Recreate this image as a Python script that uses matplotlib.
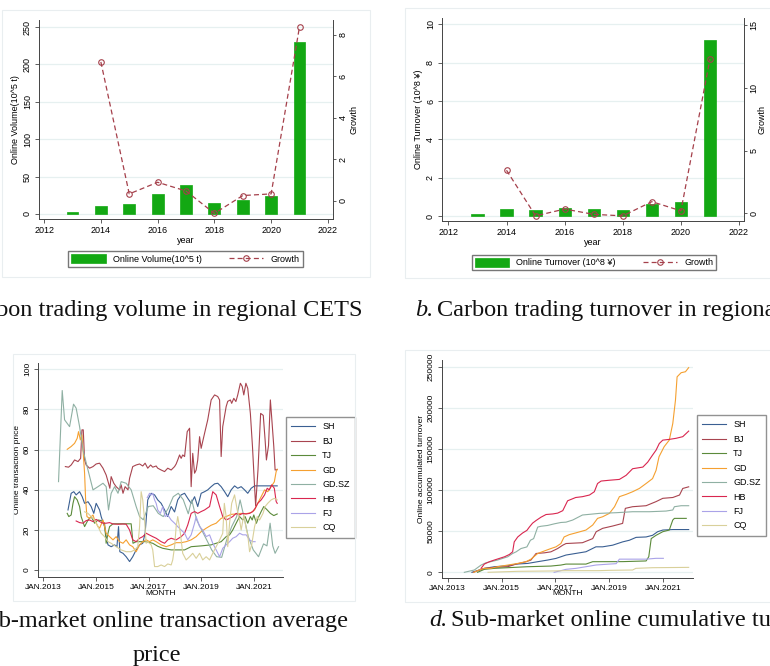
import matplotlib
matplotlib.use('Agg')
import matplotlib.pyplot as plt
from matplotlib.patches import Rectangle
import numpy as np

W, H = 770, 666
plt.rcParams['font.family'] = ['Liberation Sans', 'DejaVu Sans']

# yearly totals of the regional CETS
years = [2013, 2014, 2015, 2016, 2017, 2018, 2019, 2020, 2021]
volume = [2.2, 10.3, 13.4, 26.3, 38.8, 14.7, 18.3, 23.6, 229.5]
volume_growth = [np.nan, 6.7, 0.34, 0.9, 0.48, -0.6, 0.26, 0.34, 8.4]
turnover = [0.1, 0.37, 0.31, 0.4, 0.39, 0.3, 0.63, 0.73, 9.2]
turnover_growth = [np.nan, 3.43, -0.2, 0.34, -0.08, -0.2, 0.93, 0.2, 12.3]

markets = ['SH', 'BJ', 'TJ', 'GD', 'GD.SZ', 'HB', 'FJ', 'CQ']
colors = ['#3a5f92', '#a8444f', '#5b8a3a', '#f5a030', '#8fb0a3', '#d9264f', '#aaa3e8', '#d9d09a']

# monthly online transaction price (decimal year, price)
sh_pt = [2013.94, 2014.06, 2014.16, 2014.25, 2014.38, 2014.48, 2014.57, 2014.7, 2014.82, 2014.92, 2015.01, 2015.14, 2015.2, 2015.33, 2015.39, 2015.46, 2015.58, 2015.71, 2015.8, 2015.86, 2015.91, 2016.03, 2016.15, 2016.28, 2016.4, 2016.53, 2016.66, 2016.78, 2016.87, 2016.97, 2017.1, 2017.23, 2017.35, 2017.48, 2017.61, 2017.73, 2017.86, 2017.99, 2018.11, 2018.24, 2018.37, 2018.49, 2018.62, 2018.75, 2018.87, 2019.0, 2019.13, 2019.25, 2019.38, 2019.51, 2019.63, 2019.76, 2019.89, 2020.01, 2020.14, 2020.27, 2020.39, 2020.52, 2020.65, 2020.77, 2020.9, 2021.03, 2021.4, 2021.89]
sh_pv = [29.9, 38.2, 39, 37.4, 39, 36.5, 33.2, 34, 31.6, 28.2, 33.2, 29.9, 26.6, 21.6, 16.6, 12.5, 11.6, 12.5, 11.6, 21.6, 9.1, 8.3, 6.6, 4.2, 6.6, 10, 12.5, 13.3, 18.3, 34.9, 38.2, 37.4, 34.9, 33.2, 29.9, 26.6, 31.6, 28.9, 34.9, 37.4, 38.2, 35.7, 33.2, 36.5, 31.6, 38.2, 39, 39.9, 41.5, 42.9, 43.2, 41.5, 39, 36.5, 39.9, 41.9, 40.7, 41.5, 39.9, 38.2, 40.7, 41.9, 41.9, 41.9]
bj_pt = [2013.84, 2013.96, 2014.06, 2014.19, 2014.32, 2014.42, 2014.47, 2014.52, 2014.57, 2014.63, 2014.76, 2014.89, 2015.01, 2015.14, 2015.27, 2015.39, 2015.48, 2015.53, 2015.58, 2015.68, 2015.77, 2015.9, 2015.96, 2016.03, 2016.11, 2016.22, 2016.28, 2016.4, 2016.53, 2016.66, 2016.78, 2016.87, 2016.97, 2017.08, 2017.16, 2017.29, 2017.35, 2017.48, 2017.61, 2017.73, 2017.86, 2017.99, 2018.05, 2018.11, 2018.18, 2018.24, 2018.3, 2018.37, 2018.47, 2018.56, 2018.62, 2018.68, 2018.75, 2018.81, 2018.87, 2018.94, 2019.0, 2019.13, 2019.25, 2019.38, 2019.51, 2019.63, 2019.7, 2019.76, 2019.82, 2019.95, 2020.01, 2020.11, 2020.16, 2020.24, 2020.32, 2020.39, 2020.49, 2020.56, 2020.62, 2020.7, 2020.77, 2020.87, 2020.95, 2021.03, 2021.07, 2021.16, 2021.26, 2021.36, 2021.43, 2021.48, 2021.56, 2021.63, 2021.68, 2021.76, 2021.81, 2021.89]
bj_pv = [51.5, 51.2, 52.3, 54.8, 54, 55.6, 69.8, 69.8, 54.8, 52.3, 50.7, 51.5, 52.8, 53.2, 50.7, 47.3, 43.2, 40.7, 46.5, 43.2, 41.5, 39.9, 42.4, 38.2, 41.5, 39.9, 45.7, 51.5, 52.3, 52.8, 51.8, 53.2, 50.7, 52.3, 51.2, 51.8, 50.7, 49.8, 49, 50.7, 49.8, 51.5, 52.8, 54.8, 57.3, 55.6, 57.3, 56.5, 68.9, 70.6, 41.5, 58.1, 48.2, 49.8, 54.8, 66.4, 60.6, 68.1, 74.8, 84.7, 87.2, 86.4, 84.7, 56.5, 71.4, 81.4, 84, 84.7, 83, 85.5, 83.9, 87.2, 93, 91.4, 87.2, 93, 90.5, 78, 61.5, 41.5, 32, 50, 78, 77, 64.8, 54.8, 62, 84.7, 76, 61.5, 49.8, 50]
tj_pt = [2013.91, 2013.97, 2014.06, 2014.13, 2014.19, 2014.29, 2014.38, 2014.44, 2014.57, 2014.7, 2014.82, 2014.95, 2015.08, 2015.2, 2015.33, 2015.39, 2015.46, 2015.52, 2015.65, 2015.96, 2016.34, 2016.41, 2016.53, 2016.72, 2016.91, 2017.16, 2017.35, 2017.54, 2017.86, 2018.37, 2018.62, 2019.0, 2019.38, 2019.57, 2019.76, 2019.95, 2020.08, 2020.2, 2020.33, 2020.46, 2020.58, 2020.67, 2020.77, 2020.87, 2020.94, 2021.0, 2021.1, 2021.19, 2021.28, 2021.38, 2021.51, 2021.63, 2021.76, 2021.89]
tj_pv = [28.2, 26.6, 27.4, 33.2, 36.5, 34.9, 31.6, 26.6, 21.6, 24.9, 26.6, 23.3, 24.9, 24.6, 23.3, 13.3, 18.3, 21.6, 23, 23, 23, 13.3, 14.1, 14.1, 14.1, 13.3, 11.8, 10.8, 10, 10, 11.6, 12, 12.5, 13.3, 14.1, 16.6, 17.5, 19.9, 23.3, 26.6, 24.9, 26.6, 23.3, 26.6, 24.9, 27.4, 23.3, 26.6, 29.1, 31.6, 29.9, 28.2, 27.1, 27.9]
gd_pt = [2013.91, 2014.06, 2014.19, 2014.29, 2014.34, 2014.41, 2014.47, 2014.52, 2014.57, 2014.61, 2014.66, 2014.76, 2014.89, 2014.95, 2015.08, 2015.14, 2015.27, 2015.39, 2015.52, 2015.65, 2015.77, 2015.9, 2016.03, 2016.15, 2016.28, 2016.4, 2016.53, 2016.66, 2016.78, 2016.91, 2017.04, 2017.16, 2017.29, 2017.48, 2017.67, 2017.86, 2018.05, 2018.24, 2018.43, 2018.62, 2018.81, 2019.0, 2019.19, 2019.38, 2019.57, 2019.76, 2019.95, 2020.14, 2020.33, 2020.52, 2020.65, 2020.77, 2020.9, 2021.03, 2021.15, 2021.28, 2021.41, 2021.53, 2021.66, 2021.78, 2021.85, 2021.89]
gd_pv = [60.1, 61.5, 63.1, 65.6, 68.9, 64.8, 67.3, 58.1, 48.2, 34.9, 26.6, 25.7, 27.4, 24.9, 21.6, 20.8, 24.9, 18.3, 16.6, 15, 16.6, 14.1, 13.3, 15, 12.5, 11.6, 9.1, 12.5, 14.1, 15, 14.1, 15, 14.1, 12.5, 11.6, 12.5, 13.6, 13.6, 14.1, 15, 16.6, 19.1, 20.8, 22.3, 23.3, 25.7, 26.6, 27.7, 27.9, 28.2, 27.9, 28.2, 28.6, 29.9, 33.2, 36.5, 39.9, 39, 41.5, 43.9, 49, 50.2]
sz_pt = [2013.58, 2013.72, 2013.81, 2014.0, 2014.15, 2014.25, 2014.38, 2014.51, 2014.7, 2014.89, 2015.08, 2015.27, 2015.39, 2015.48, 2015.58, 2015.71, 2015.84, 2015.96, 2016.15, 2016.34, 2016.53, 2016.66, 2016.8, 2016.99, 2017.18, 2017.37, 2017.56, 2017.75, 2017.94, 2018.13, 2018.32, 2018.51, 2018.64, 2018.83, 2019.02, 2019.21, 2019.4, 2019.59, 2019.78, 2019.97, 2020.16, 2020.35, 2020.48, 2020.6, 2020.79, 2020.98, 2021.18, 2021.37, 2021.5, 2021.62, 2021.72, 2021.81, 2021.94]
sz_pv = [44, 89.4, 74.8, 71.4, 82.6, 80.6, 71.4, 59.8, 49.8, 39.9, 41.5, 43.2, 41.5, 29.9, 38.2, 41.5, 38.2, 44, 43.2, 39.9, 31.6, 26.6, 25, 31.6, 32, 28.2, 26.6, 30.7, 36.5, 38.2, 35, 28, 34.9, 24.9, 19.9, 15, 10, 6.6, 6.3, 15, 21.6, 26.6, 34.9, 28, 16.6, 10, 6.6, 13, 12, 23.3, 12, 8.3, 11.6]
hb_pt = [2014.25, 2014.38, 2014.51, 2014.63, 2014.76, 2014.89, 2015.01, 2015.14, 2015.27, 2015.39, 2015.52, 2015.65, 2015.84, 2016.03, 2016.15, 2016.28, 2016.4, 2016.53, 2016.66, 2016.78, 2016.91, 2017.04, 2017.16, 2017.29, 2017.48, 2017.61, 2017.73, 2017.86, 2018.05, 2018.24, 2018.37, 2018.49, 2018.62, 2018.75, 2018.87, 2019.0, 2019.13, 2019.32, 2019.44, 2019.57, 2019.7, 2019.82, 2019.95, 2020.08, 2020.2, 2020.33, 2020.46, 2020.58, 2020.71, 2020.84, 2020.96, 2021.05, 2021.15, 2021.28, 2021.41, 2021.51, 2021.59, 2021.68, 2021.78, 2021.85, 2021.89]
hb_pv = [24.4, 23.6, 23.3, 24.6, 24.9, 24.1, 25.2, 24.1, 23.3, 23.3, 23.6, 22.9, 22.8, 22.9, 22.8, 19.9, 15, 14.1, 15.8, 16.6, 18.3, 17.4, 16.6, 15.8, 14.1, 13.3, 15, 15.8, 15, 16.6, 18.3, 22.4, 28.2, 29.1, 28.2, 29.1, 29.9, 31.6, 39, 37.4, 31.6, 26.6, 24.9, 25.7, 26.6, 28.2, 27.4, 28.2, 27.9, 28.2, 29.1, 30.7, 33.2, 34.9, 37.4, 40.7, 39.9, 42.4, 40.7, 34.1, 33.2]
fj_pt = [2016.95, 2017.04, 2017.1, 2017.16, 2017.23, 2017.29, 2017.35, 2017.45, 2017.54, 2017.63, 2017.73, 2017.86, 2017.99, 2018.11, 2018.24, 2018.37, 2018.49, 2018.62, 2018.75, 2018.81, 2018.94, 2019.06, 2019.19, 2019.32, 2019.44, 2019.57, 2019.7, 2019.82, 2019.95, 2020.08, 2020.2, 2020.33, 2020.46, 2020.58, 2020.71, 2020.84, 2020.96, 2021.05]
fj_pv = [36, 38.2, 37.4, 38.2, 34.9, 33.2, 29.9, 28.2, 31.6, 26.6, 27.4, 24.9, 23.3, 21.6, 19.9, 18.3, 15, 17.5, 23.3, 26.6, 21.6, 19.9, 16.6, 17.5, 13.3, 10, 6.6, 10.8, 12.5, 14.1, 15.8, 16.6, 18.3, 17.5, 17.5, 15, 14.1, 14.1]
cq_pt = [2014.57, 2014.7, 2014.82, 2014.95, 2015.08, 2015.2, 2015.33, 2015.46, 2015.58, 2015.77, 2015.96, 2016.15, 2016.34, 2016.47, 2016.59, 2016.66, 2016.72, 2016.78, 2016.85, 2016.91, 2016.97, 2017.1, 2017.16, 2017.23, 2017.35, 2017.48, 2017.61, 2017.73, 2017.86, 2017.92, 2017.99, 2018.05, 2018.11, 2018.21, 2018.3, 2018.43, 2018.56, 2018.68, 2018.81, 2018.94, 2019.06, 2019.19, 2019.32, 2019.44, 2019.57, 2019.7, 2019.82, 2019.88, 2019.95, 2020.01, 2020.08, 2020.16, 2020.27, 2020.37, 2020.46, 2020.52, 2020.62, 2020.71, 2020.77, 2020.84, 2020.92, 2021.03, 2021.13, 2021.22, 2021.35, 2021.43, 2021.53, 2021.66, 2021.78, 2021.89]
cq_pv = [29, 28.2, 26.6, 24.9, 21.6, 18.3, 16.6, 14.1, 13.3, 11.6, 10, 9.1, 9.1, 10, 11.6, 21.6, 39, 34.9, 24.9, 13.3, 14.1, 12.5, 10, 1.7, 1.7, 2.5, 1.7, 3, 2.5, 5, 11.6, 21.6, 26.6, 18.3, 8.3, 5, 6.6, 8.3, 5.8, 8.3, 5, 6.6, 5, 8.3, 11.6, 14.9, 18.3, 33.2, 26.6, 11.6, 23.3, 33.2, 37.4, 29.9, 24.9, 19.9, 27.4, 20.8, 17.5, 9.1, 12.5, 21.6, 26.6, 24.9, 28.2, 31.6, 33.2, 34.9, 35.7, 34.9]

# online accumulated turnover (decimal year, value)
sh_ct = [2013.9, 2014.37, 2014.74, 2015.23, 2015.54, 2015.97, 2016.34, 2016.71, 2017.02, 2017.2, 2017.39, 2017.76, 2018.13, 2018.5, 2018.75, 2019.12, 2019.49, 2019.74, 2019.99, 2020.36, 2020.6, 2020.79, 2020.98, 2021.35, 2021.94]
sh_cv = [0, 4800, 6800, 8000, 10000, 10800, 12900, 14900, 16900, 18900, 21000, 23000, 25000, 31000, 31000, 33000, 37000, 39000, 42500, 43000, 45000, 49400, 51400, 52000, 52000]
bj_ct = [2013.95, 2014.37, 2014.74, 2015.23, 2015.54, 2015.91, 2016.09, 2016.28, 2016.59, 2016.83, 2017.08, 2017.27, 2017.39, 2018.0, 2018.38, 2018.51, 2018.75, 2019.12, 2019.49, 2019.59, 2019.86, 2020.36, 2020.73, 2020.98, 2021.35, 2021.6, 2021.72, 2021.94]
bj_cv = [0, 4800, 6000, 6800, 10000, 12900, 14900, 22900, 23700, 24900, 28900, 33000, 35000, 36000, 41000, 49400, 53500, 56300, 59500, 77800, 79800, 81000, 86000, 90000, 91000, 94000, 102000, 104000]
tj_ct = [2014.11, 2014.36, 2014.73, 2015.23, 2015.97, 2016.83, 2017.2, 2017.39, 2018.13, 2018.38, 2019.5, 2020.36, 2020.46, 2020.55, 2020.73, 2020.98, 2021.22, 2021.35, 2021.41, 2021.85]
tj_cv = [0, 3600, 4800, 5600, 6800, 7600, 8800, 10000, 10000, 12900, 13000, 13800, 19000, 41000, 45000, 49400, 51400, 63600, 65600, 65600]
gd_ct = [2013.97, 2014.17, 2014.36, 2014.6, 2014.85, 2015.23, 2015.6, 2015.91, 2016.09, 2016.34, 2016.59, 2016.83, 2017.02, 2017.2, 2017.32, 2017.51, 2017.76, 2018.13, 2018.38, 2018.56, 2018.75, 2019.0, 2019.19, 2019.37, 2019.62, 2019.86, 2020.11, 2020.36, 2020.6, 2020.73, 2020.84, 2021.03, 2021.22, 2021.35, 2021.45, 2021.51, 2021.66, 2021.82, 2021.94]
gd_cv = [0, 2800, 4800, 4800, 6800, 8800, 10800, 12900, 16000, 22900, 26000, 28900, 31000, 35000, 43000, 45800, 48000, 51400, 57500, 65600, 67600, 71700, 79800, 92000, 94800, 98000, 102000, 108000, 114000, 124000, 140600, 152800, 160800, 181000, 209500, 237800, 242800, 244000, 249000]
sz_ct = [2013.62, 2013.99, 2014.24, 2014.42, 2014.6, 2014.85, 2015.04, 2015.23, 2015.41, 2015.54, 2015.72, 2015.94, 2016.07, 2016.19, 2016.34, 2016.46, 2016.71, 2016.96, 2017.2, 2017.39, 2017.64, 2018.0, 2018.38, 2018.63, 2019.25, 2019.86, 2020.48, 2021.1, 2021.35, 2021.41, 2021.66, 2021.94]
sz_cv = [0, 2800, 8800, 11600, 12900, 14900, 16900, 18900, 22900, 24900, 28900, 30900, 39000, 41000, 55000, 56000, 57000, 59000, 60600, 61000, 63600, 69700, 70900, 71700, 72500, 73700, 73700, 74500, 75800, 79800, 81000, 81000]
hb_ct = [2014.24, 2014.36, 2014.55, 2014.73, 2014.92, 2015.11, 2015.29, 2015.41, 2015.47, 2015.6, 2015.78, 2015.94, 2016.03, 2016.15, 2016.28, 2016.46, 2016.65, 2016.9, 2017.08, 2017.27, 2017.45, 2017.75, 2018.0, 2018.26, 2018.44, 2018.56, 2018.69, 2019.0, 2019.37, 2019.62, 2019.86, 2020.24, 2020.42, 2020.6, 2020.73, 2020.85, 2020.98, 2021.22, 2021.47, 2021.72, 2021.85, 2021.94]
hb_cv = [4800, 10000, 12900, 14900, 16900, 18900, 21700, 24900, 37000, 43000, 47800, 51000, 55000, 59800, 63000, 67000, 70300, 71000, 72000, 75000, 87000, 91000, 92000, 94000, 98000, 108000, 111000, 112000, 113000, 118000, 126000, 128000, 134000, 142600, 148600, 156700, 160800, 161700, 163000, 165000, 169000, 171800]
fj_ct = [2016.95, 2017.2, 2017.39, 2017.76, 2018.13, 2018.51, 2019.0, 2019.25, 2019.37, 2019.86, 2020.36, 2020.73, 2021.0]
fj_cv = [0, 2000, 3600, 4800, 6800, 8900, 10000, 10500, 16000, 16000, 16000, 17000, 17000]
cq_ct = [2014.5, 2015.6, 2016.83, 2017.39, 2018.6, 2019.0, 2019.86, 2019.98, 2020.6, 2021.94]
cq_cv = [0, 1200, 1600, 2000, 2000, 2400, 2800, 4800, 5600, 6000]

price_series = [(sh_pt, sh_pv), (bj_pt, bj_pv), (tj_pt, tj_pv), (gd_pt, gd_pv),
                (sz_pt, sz_pv), (hb_pt, hb_pv), (fj_pt, fj_pv), (cq_pt, cq_pv)]
cum_series = [(sh_ct, sh_cv), (bj_ct, bj_cv), (tj_ct, tj_cv), (gd_ct, gd_cv),
              (sz_ct, sz_cv), (hb_ct, hb_cv), (fj_ct, fj_cv), (cq_ct, cq_cv)]

fig = plt.figure(figsize=(W / 100, H / 100), dpi=100)
fig.patch.set_facecolor('white')

def px_axes(l, t, r, b):
    return fig.add_axes([l / W, 1 - b / H, (r - l) / W, (b - t) / H])

def frame(l, t, r, b):
    fig.add_artist(Rectangle((l / W, 1 - b / H), (r - l) / W, (b - t) / H,
                             transform=fig.transFigure, fill=False,
                             edgecolor='#e9eef0', lw=0.8))

def stata(ax, fs=6.5):
    ax.spines['top'].set_visible(False)
    ax.spines['right'].set_visible(False)
    for s in ['left', 'bottom']:
        ax.spines[s].set_linewidth(0.7)
        ax.spines[s].set_color('#444444')
    ax.tick_params(length=3, width=0.6, color='#444444', labelsize=fs, pad=2)
    ax.tick_params(axis='y', labelrotation=90)
    for lab in ax.get_yticklabels():
        lab.set_va('center')
    ax.yaxis.grid(True, color='#e6f0f0', lw=0.9)
    ax.set_axisbelow(True)

def growth_axis(ax, ylim, ticks, labelpad=0.5):
    ax2 = ax.twinx()
    for s in ['top', 'left', 'bottom']:
        ax2.spines[s].set_visible(False)
    ax2.spines['right'].set_linewidth(0.7)
    ax2.spines['right'].set_color('#444444')
    ax2.set_ylim(*ylim)
    ax2.set_yticks(ticks)
    ax2.tick_params(length=2.5, width=0.6, color='#444444', labelsize=6.5, pad=1.5, labelrotation=90)
    for lab in ax2.get_yticklabels():
        lab.set_va('center')
    ax2.set_ylabel('Growth', fontsize=6.5, labelpad=labelpad)
    return ax2

bar_green = '#13a813'
growth_red = '#a5404b'

frame(2, 10, 370, 277)
frame(405, 8, 775, 278)
frame(13, 354, 355, 601)
frame(405, 350, 775, 602)

# a. volume
ax = px_axes(39, 20, 333, 219)
bars = ax.bar(years, volume, width=0.42, color=bar_green, edgecolor=bar_green, lw=0.5)
ax.set_xlim(2011.82, 2022.18)
ax.set_ylim(-6.7, 259.4)
ax.set_xticks(range(2012, 2023, 2))
ax.set_yticks(range(0, 251, 50))
stata(ax)
ax.set_xlabel('year', fontsize=6.5, labelpad=1)
ax.set_ylabel('Online Volume(10^5 t)', fontsize=6.5, labelpad=2)
ax2 = growth_axis(ax, (-0.87, 8.72), range(0, 9, 2), 1.5)
ln, = ax2.plot(years, volume_growth, color=growth_red, ls=(0, (4, 2.5)), lw=0.9,
               marker='o', ms=4, mfc='none', mec=growth_red, mew=0.8)
fig.legend([bars, ln], ['Online Volume(10^5 t)', 'Growth'], loc='center',
           bbox_to_anchor=(185.5 / W, 1 - 259 / H), ncol=2, fontsize=6.5,
           frameon=True, fancybox=False, edgecolor='#555555', handlelength=3.8,
           handleheight=1.2, columnspacing=3.0, borderpad=0.35, handletextpad=0.8)

# b. turnover
ax = px_axes(442, 18, 744, 221)
bars = ax.bar(years, turnover, width=0.42, color=bar_green, edgecolor=bar_green, lw=0.5)
ax.set_xlim(2011.78, 2022.17)
ax.set_ylim(-0.26, 10.33)
ax.set_xticks(range(2012, 2023, 2))
ax.set_yticks(range(0, 11, 2))
stata(ax)
ax.set_xlabel('year', fontsize=6.5, labelpad=1)
ax.set_ylabel('Online Turnover (10^8 ¥)', fontsize=6.5, labelpad=2)
ax2 = growth_axis(ax, (-0.61, 15.56), range(0, 16, 5), -1)
ln, = ax2.plot(years, turnover_growth, color=growth_red, ls=(0, (4, 2.5)), lw=0.9,
               marker='o', ms=4, mfc='none', mec=growth_red, mew=0.8)
fig.legend([bars, ln], ['Online Turnover (10^8 ¥)', 'Growth'], loc='center',
           bbox_to_anchor=(594 / W, 1 - 262.5 / H), ncol=2, fontsize=6.5,
           frameon=True, fancybox=False, edgecolor='#555555', handlelength=3.8,
           handleheight=1.2, columnspacing=3.0, borderpad=0.35, handletextpad=0.8)

# c. price
ax = px_axes(38, 363, 283, 577)
for (t, v), name, c in zip(price_series, markets, colors):
    ax.plot(t, v, color=c, lw=0.8, label=name)
ax.set_xlim(2012.8, 2022.11)
ax.set_ylim(-3.5, 103.1)
ax.set_xticks(range(2013, 2022, 2))
ax.set_xticklabels(['JAN.%d' % y for y in range(2013, 2022, 2)])
ax.set_yticks(range(0, 101, 20))
stata(ax, 6)
ax.set_xlabel('MONTH', fontsize=6, labelpad=-1)
ax.set_ylabel('Online transaction price', fontsize=6, labelpad=2)
ax.legend(loc='upper left', bbox_to_anchor=(286 / W, 1 - 417 / H),
          bbox_transform=fig.transFigure, borderaxespad=0, fontsize=6.5,
          frameon=True, fancybox=False, edgecolor='#777777', handlelength=2.6,
          labelspacing=0.6, borderpad=0.6)

# d. cumulative turnover
ax = px_axes(441.7, 360, 693, 577.7)
for (t, v), name, c in zip(cum_series, markets, colors):
    ax.plot(t, v, color=c, lw=0.8, label=name)
ax.set_xlim(2012.78, 2022.1)
ax.set_ylim(-6566, 258270)
ax.set_xticks(range(2013, 2022, 2))
ax.set_xticklabels(['JAN.%d' % y for y in range(2013, 2022, 2)])
ax.set_yticks(range(0, 250001, 50000))
stata(ax, 6)
ax.set_xlabel('MONTH', fontsize=6, labelpad=-1)
ax.set_ylabel('Online accumulated turnover', fontsize=6, labelpad=2)
ax.legend(loc='upper left', bbox_to_anchor=(697 / W, 1 - 415 / H),
          bbox_transform=fig.transFigure, borderaxespad=0, fontsize=6.5,
          frameon=True, fancybox=False, edgecolor='#777777', handlelength=2.6,
          labelspacing=0.6, borderpad=0.6)

# captions, cropped at the image edges as in the source
cap = dict(fontsize=17.5, family=['Liberation Serif', 'DejaVu Serif'], color='#111111')
fig.text(363 / W, 1 - 310 / H, 'a. Carbon trading volume in regional CETS', ha='right', va='center', **cap)
fig.text(415 / W, 1 - 310 / H, 'b.', ha='left', va='center', style='italic', **cap)
fig.text(437 / W, 1 - 310 / H, 'Carbon trading turnover in regional CETS', ha='left', va='center', **cap)
fig.text(348 / W, 1 - 621 / H, 'c. Sub-market online transaction average', ha='right', va='center', **cap)
fig.text(157 / W, 1 - 655 / H, 'price', ha='center', va='center', **cap)
fig.text(429 / W, 1 - 621 / H, 'd.', ha='left', va='center', style='italic', **cap)
fig.text(451 / W, 1 - 621 / H, 'Sub-market online cumulative turnover', ha='left', va='center', **cap)

fig.savefig('out.png', dpi=100, facecolor='white')
